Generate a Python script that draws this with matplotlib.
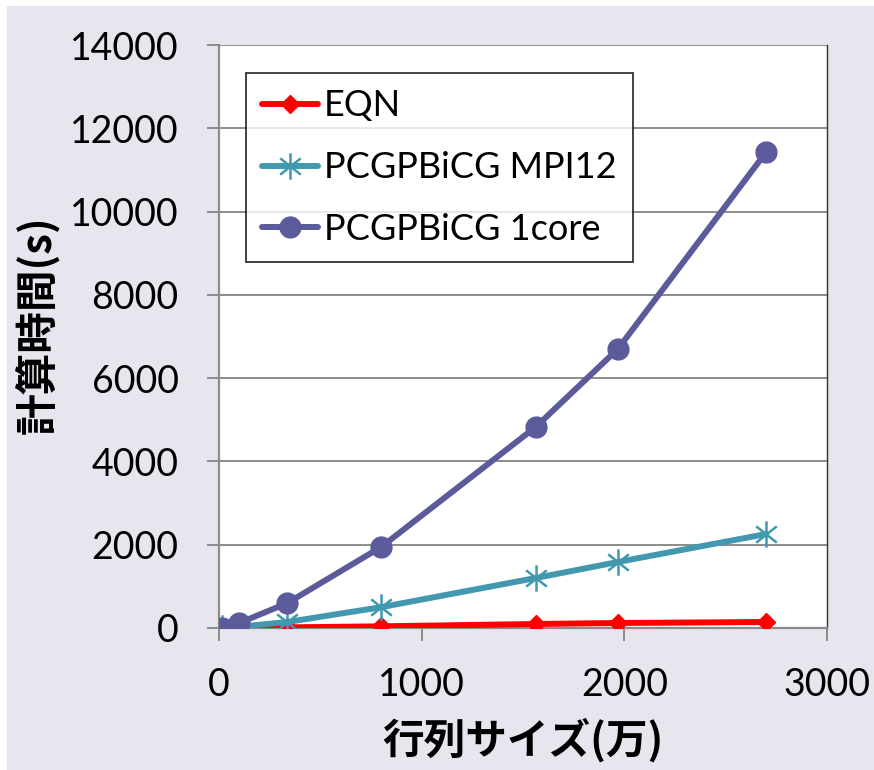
import matplotlib
matplotlib.use("Agg")
import matplotlib.pyplot as plt
from matplotlib.path import Path
from matplotlib.patches import Rectangle

# Matrix size (in units of 10^4 unknowns) and elapsed time in seconds
sizes = [12.5, 100, 337.5, 800, 1562.5, 1968.3, 2700]
eqn_time = [1, 3, 15, 40, 96, 120, 144]
mpi12_time = [5, 30, 144, 500, 1200, 1585, 2257]
core1_time = [5, 120, 600, 1945, 4826, 6700, 11430]

series_names = ["EQN", "PCGPBiCG MPI12", "PCGPBiCG 1core"]
x_ticks = [0, 1000, 2000, 3000]
y_ticks = [0, 2000, 4000, 6000, 8000, 10000, 12000, 14000]
x_label = "行列サイズ(万)"
y_label = "計算時間(s)"

plt.rcParams["font.family"] = ["Lato", "Noto Sans CJK JP", "DejaVu Sans"]

W, H = 874, 770
fig = plt.figure(figsize=(W / 100, H / 100), dpi=100)
fig.patch.set_facecolor("white")
bg = "#E6E6EF"
fig.patches.append(Rectangle((7 / W, 0), 1 - 7 / W, 1 - 6 / H,
                             transform=fig.transFigure, facecolor=bg,
                             edgecolor="none", zorder=-10))

ax = fig.add_axes([219 / W, (H - 628) / H, (827 - 219) / W, (628 - 45) / H])
ax.set_facecolor("white")

# six-spoke asterisk: vertical bar plus an X
ast = Path([(0, -1), (0, 1), (-0.78, -0.62), (0.78, 0.62), (-0.78, 0.62), (0.78, -0.62)],
           [Path.MOVETO, Path.LINETO, Path.MOVETO, Path.LINETO, Path.MOVETO, Path.LINETO])

lw = 4.3
ax.plot(sizes, eqn_time, color="#FF0000", lw=lw, marker="D", ms=9.5,
        label=series_names[0], zorder=3, solid_capstyle="round")
ax.plot(sizes, mpi12_time, color="#4198AF", lw=lw, marker=ast, ms=19, mew=1.8,
        label=series_names[1], zorder=4, solid_capstyle="round")
ax.plot(sizes, core1_time, color="#5B5B9B", lw=lw, marker="o", ms=15,
        label=series_names[2], zorder=5, solid_capstyle="round")

ax.set_xlim(0, 3000)
ax.set_ylim(0, 14000)
ax.set_xticks(x_ticks)
ax.set_yticks(y_ticks)
ax.yaxis.grid(True, color="#8C8C8C", lw=1.4)
ax.set_axisbelow(True)

for s in ("left", "bottom"):
    ax.spines[s].set_color("#8C8C8C")
    ax.spines[s].set_linewidth(1.6)
ax.spines["top"].set_visible(False)
ax.spines["right"].set_color("#303030")
ax.spines["right"].set_linewidth(1.0)

ax.tick_params(axis="both", direction="out", length=9, width=1.4,
               color="#8C8C8C", labelsize=27, labelcolor="black")
ax.tick_params(axis="y", pad=20)
ax.tick_params(axis="x", pad=19)

ax.set_xlabel(x_label, fontsize=30, fontweight="bold",
              family=["Noto Sans CJK JP"], labelpad=11)
ax.set_ylabel(y_label, fontsize=30, fontweight="bold",
              family=["Noto Sans CJK JP"])
ax.yaxis.set_label_coords(-0.262, 0.52)

leg = ax.legend(loc="upper left",
                bbox_to_anchor=((246 - 219) / 608, (628 - 73) / 583),
                borderaxespad=0, fancybox=False, frameon=True,
                edgecolor="black", fontsize=26, handlelength=1.55,
                handletextpad=0.15, labelspacing=0.8, borderpad=0.45,
                markerscale=1.0)
leg.get_frame().set_linewidth(1.3)

fig.savefig("out.png", dpi=100, facecolor=fig.get_facecolor())
